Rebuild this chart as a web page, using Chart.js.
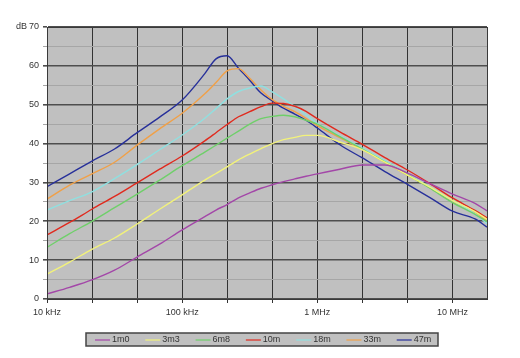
<!DOCTYPE html>
<html>
<head>
<meta charset="utf-8">
<script src="https://cdn.jsdelivr.net/npm/chart.js@4"></script>
<style>
  body { margin: 0; background: #fff; }
  #wrap { width: 520px; height: 358px; }
</style>
</head>
<body>
<div id="wrap"><canvas id="attChart" width="520" height="358"></canvas></div>
<script>
// frequencies in kHz
const freqKHz = [10, 14.7, 21.5, 31.6, 46.4, 68.1, 100, 147, 178, 215, 261, 316, 383, 464,
  562, 681, 825, 1000, 1468, 2154, 3162, 4642, 6813, 10000, 14678, 18000];

const db1m0 = [1.3, 3.0, 4.9, 7.4, 10.8, 14.1, 17.8, 21.2, 22.9, 24.3, 26.0, 27.3, 28.5, 29.4,
  30.2, 30.9, 31.6, 32.2, 33.4, 34.5, 34.5, 32.4, 29.7, 27.0, 24.6, 22.7];
const db3m3 = [6.4, 9.5, 12.8, 15.7, 19.3, 23.1, 26.8, 30.6, 32.3, 34.0, 35.8, 37.3, 38.7, 40.0,
  41.0, 41.6, 42.1, 42.1, 40.4, 38.4, 35.2, 31.9, 28.8, 25.4, 22.5, 20.5];
const db6m8 = [13.3, 16.8, 20.0, 23.5, 27.0, 30.6, 34.3, 37.8, 39.6, 41.4, 43.2, 45.0, 46.4, 47.0,
  47.3, 46.9, 46.0, 45.0, 41.8, 38.6, 35.3, 32.0, 28.5, 24.8, 21.8, 19.9];
const db10m = [16.5, 19.7, 23.1, 26.4, 29.9, 33.4, 36.8, 40.7, 42.8, 44.9, 46.9, 48.2, 49.5, 50.4,
  50.3, 49.6, 48.3, 46.4, 43.0, 39.8, 36.4, 33.2, 29.7, 26.0, 22.8, 20.9];
const db18m = [22.9, 25.3, 27.6, 31.0, 34.6, 38.4, 42.2, 46.5, 49.0, 51.5, 53.4, 54.3, 54.8, 53.3,
  51.5, 49.5, 47.4, 45.2, 42.0, 38.8, 35.6, 32.2, 28.8, 25.3, 21.9, 19.4];
const db33m = [25.7, 29.3, 32.2, 35.2, 39.6, 43.8, 47.8, 52.8, 55.7, 58.7, 59.3, 56.8, 53.8, 51.3,
  49.6, 48.2, 46.5, 44.6, 41.5, 38.5, 35.2, 31.9, 28.6, 25.0, 22.2, 20.2];
const db47m = [28.9, 32.2, 35.5, 38.6, 42.8, 46.8, 51.2, 58.0, 61.8, 62.6, 59.4, 56.3, 53.0, 51.0,
  49.1, 47.6, 46.0, 44.0, 39.7, 36.3, 32.8, 29.5, 26.1, 22.6, 20.6, 18.5];

const seriesLabels = ["1m0", "3m3", "6m8", "10m", "18m", "33m", "47m"];
const seriesValues = [db1m0, db3m3, db6m8, db10m, db18m, db33m, db47m];
const seriesColors = ["#a347a8", "#f2f27a", "#6fcf6a", "#e02a1e", "#8fe0e0", "#f0a048", "#27309a"];

// x ticks every third of a decade, labels only on the decades
const xTickValues = [1e4, 2.154e4, 4.642e4, 1e5, 2.154e5, 4.642e5, 1e6, 2.154e6, 4.642e6, 1e7];
const xTickLabels = { 1e4: "10 kHz", 1e5: "100 kHz", 1e6: "1 MHz", 1e7: "10 MHz" };

const labelFont = "'Liberation Sans', Arial, sans-serif";

const datasets = seriesLabels.map((label, i) => ({
  label: label,
  data: freqKHz.map((f, j) => ({ x: f * 1000, y: seriesValues[i][j] })),
  borderColor: seriesColors[i],
  backgroundColor: seriesColors[i],
  borderWidth: 1.4,
  pointRadius: 0,
  cubicInterpolationMode: "monotone",
  fill: false,
}));

const plotDecor = {
  id: "plotDecor",
  beforeDraw(chart) {
    const { ctx, chartArea: a } = chart;
    ctx.save();
    ctx.fillStyle = "#c0c0c0";
    ctx.fillRect(a.left, a.top, a.right - a.left, a.bottom - a.top);
    ctx.restore();
  },
  afterDraw(chart) {
    const { ctx, chartArea: a } = chart;
    ctx.save();
    // frame
    ctx.strokeStyle = "#3a3a3a";
    ctx.lineWidth = 1;
    ctx.strokeRect(a.left + 0.5, a.top + 0.5, a.right - a.left, a.bottom - a.top);
    // unit label
    ctx.fillStyle = "#333";
    ctx.font = "9px " + labelFont;
    ctx.textBaseline = "middle";
    ctx.textAlign = "left";
    ctx.fillText("dB", 16, 27);
    // legend box
    const lx = 86, ly = 333, lw = 352, lh = 13;
    ctx.fillStyle = "#c0c0c0";
    ctx.fillRect(lx, ly, lw, lh);
    ctx.strokeStyle = "#444";
    ctx.lineWidth = 1.5;
    ctx.strokeRect(lx, ly, lw, lh);
    const step = lw / chart.data.datasets.length;
    chart.data.datasets.forEach((ds, i) => {
      const x0 = lx + step * i;
      const cy = ly + lh / 2 + 0.5;
      ctx.strokeStyle = ds.borderColor;
      ctx.lineWidth = 1.2;
      ctx.beginPath();
      ctx.moveTo(x0 + 9, cy);
      ctx.lineTo(x0 + 24, cy);
      ctx.stroke();
      ctx.fillStyle = "#333";
      ctx.font = "9px " + labelFont;
      ctx.fillText(ds.label, x0 + 26, cy);
    });
    ctx.restore();
  },
};

new Chart(document.getElementById("attChart"), {
  type: "line",
  data: { datasets: datasets },
  options: {
    responsive: false,
    animation: false,
    layout: { padding: { left: 0, top: 27, right: 33, bottom: 0 } },
    plugins: { legend: { display: false }, tooltip: { enabled: false } },
    scales: {
      x: {
        type: "logarithmic",
        min: 10000,
        max: 18000000,
        afterBuildTicks: (scale) => {
          scale.ticks = xTickValues.map((v) => ({ value: v }));
        },
        afterFit: (scale) => { scale.height = 59; },
        ticks: {
          autoSkip: false,
          maxRotation: 0,
          padding: 4,
          color: "#333",
          font: { family: labelFont, size: 9 },
          callback: (v) => xTickLabels[v] || "",
        },
        grid: { color: "#333", lineWidth: 1, tickLength: 4 },
        border: { color: "#333" },
      },
      y: {
        min: 0,
        max: 70,
        afterFit: (scale) => { scale.width = 47; },
        ticks: {
          stepSize: 5,
          padding: 4,
          color: "#333",
          font: { family: labelFont, size: 9 },
          callback: (v) => (v % 10 === 0 ? v : ""),
        },
        grid: {
          color: (c) => (c.tick && c.tick.value % 10 === 0 ? "#4e4e4e" : "#a6a6a6"),
          lineWidth: (c) => (c.tick && c.tick.value % 10 === 0 ? 1.6 : 1),
          tickLength: 4,
        },
        border: { color: "#333" },
      },
    },
  },
  plugins: [plotDecor],
});
</script>
</body>
</html>
